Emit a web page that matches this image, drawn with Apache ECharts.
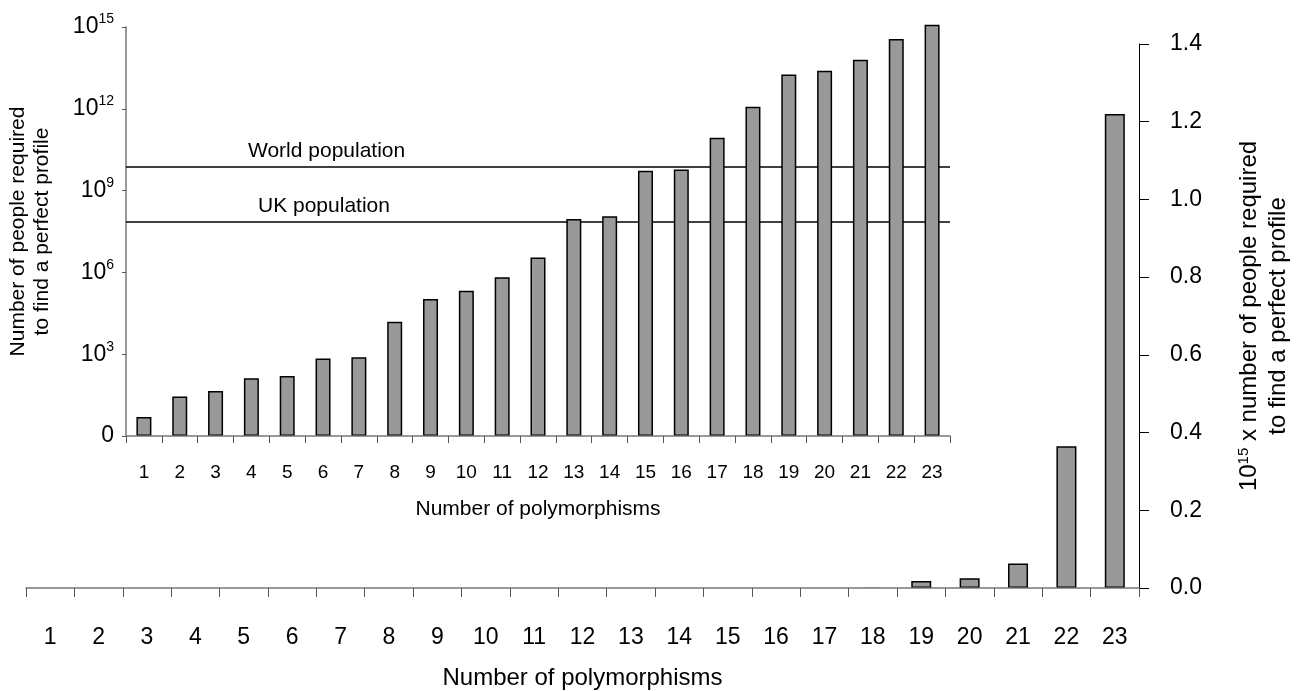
<!DOCTYPE html>
<html>
<head>
<meta charset="utf-8">
<title>Polymorphisms</title>
<script src="https://cdn.jsdelivr.net/npm/echarts@6/dist/echarts.min.js"></script>
<style>
    html, body { margin: 0; padding: 0; background: #fff; }
    #chart { width: 1304px; height: 691px; }
</style>
</head>
<body>
<div id="chart"></div>
<script>
// number of polymorphisms
const categories = ['1', '2', '3', '4', '5', '6', '7', '8', '9', '10', '11', '12',
    '13', '14', '15', '16', '17', '18', '19', '20', '21', '22', '23'];
// number of people required to find a perfect profile
const peopleRequired = [5, 28, 45, 130, 160, 700, 780, 15500, 105000, 214000, 660000, 3.5e6,
    9.1e7, 1.15e8, 5.4e9, 6.0e9, 8.7e10, 1.2e12, 1.8e13, 2.5e13, 6.3e13, 3.65e14, 1.22e15];
const worldPopulation = 7.5e9;
const ukPopulation = 7e7;
const logTicks = [0, 3, 6, 9, 12, 15];      // exponents shown on the inset axis
const linearTicks = [0, 0.2, 0.4, 0.6, 0.8, 1.0, 1.2, 1.4];

const myChart = echarts.init(document.getElementById('chart'));

const font = 'Liberation Sans, Arial, Helvetica, sans-serif';
const barStyle = {
    color: '#999999',
    borderColor: '#000',
    borderWidth: 1.5
};

// linear chart: bars too small to see get no outline (they would only darken the axis)
const linearData = peopleRequired.map(function (v) {
    const y = v / 1e15;
    return { value: y, itemStyle: { borderWidth: y < 0.005 ? 0 : 1.5 } };
});

const option = {
    animation: false,
    backgroundColor: '#fff',
    textStyle: { fontFamily: font, color: '#000' },
    grid: [
        // big linear chart
        { left: 26, right: 165, top: 44, bottom: 103, outerBoundsMode: 'none', containLabel: false },
        // log inset
        { left: 126, right: 354, top: 27, bottom: 255, outerBoundsMode: 'none', containLabel: false }
    ],
    xAxis: [
        {
            type: 'category',
            gridIndex: 0,
            data: categories,
            z: 3,
            name: 'Number of polymorphisms',
            nameLocation: 'middle',
            nameGap: 78,
            nameTextStyle: { fontSize: 24, color: '#000' },
            axisLine: { lineStyle: { color: '#777', width: 1.5 } },
            axisTick: { show: true, length: 9, lineStyle: { color: '#555' } },
            axisLabel: { margin: 38, fontSize: 23, color: '#000' }
        },
        {
            type: 'category',
            gridIndex: 1,
            data: categories,
            z: 6,
            name: 'Number of polymorphisms',
            nameLocation: 'middle',
            nameGap: 63,
            nameTextStyle: { fontSize: 21, color: '#000' },
            axisLine: { lineStyle: { color: '#777', width: 1.5 } },
            axisTick: { show: true, length: 7, lineStyle: { color: '#555' } },
            axisLabel: { margin: 27, fontSize: 19, color: '#000' }
        }
    ],
    yAxis: [
        {
            type: 'value',
            gridIndex: 0,
            position: 'right',
            min: 0,
            max: 1.4,
            interval: 0.2,
            name: '{n|10}{s|15}{n| x number of people required}\n{n|to find a perfect profile}',
            nameLocation: 'middle',
            nameRotate: 90,
            nameGap: 96,
            nameTextStyle: {
                align: 'center',
                rich: {
                    n: { fontSize: 24, lineHeight: 29, color: '#000', fontFamily: font },
                    s: { fontSize: 15, lineHeight: 29, color: '#000', fontFamily: font, padding: [0, 0, 12, 0] }
                }
            },
            splitLine: { show: false },
            axisLine: { show: true, lineStyle: { color: '#000', width: 1 } },
            axisTick: { show: true, length: 10, lineStyle: { color: '#000' } },
            axisLabel: {
                margin: 31,
                fontSize: 23,
                color: '#000',
                formatter: function (v) { return v.toFixed(1); }
            }
        },
        {
            type: 'value',
            gridIndex: 1,
            min: logTicks[0],
            max: logTicks[logTicks.length - 1],
            interval: 3,
            name: 'Number of people required\nto find a perfect profile',
            nameLocation: 'middle',
            nameGap: 72,
            nameTextStyle: { fontSize: 21, lineHeight: 24, color: '#000' },
            splitLine: { show: false },
            axisLine: { show: true, lineStyle: { color: '#777', width: 1.5 } },
            axisTick: { show: true, length: 4, lineStyle: { color: '#555' } },
            axisLabel: {
                margin: 12,
                color: '#000',
                formatter: function (v) {
                    if (v === 0) return '{b|0}';
                    return '{b|10}{s|' + v + '}';
                },
                rich: {
                    b: { fontSize: 23, fontFamily: font, color: '#000' },
                    s: { fontSize: 14, fontFamily: font, color: '#000', padding: [0, 0, 15, 0] }
                }
            }
        }
    ],
    series: [
        {
            name: 'linear',
            type: 'bar',
            xAxisIndex: 0,
            yAxisIndex: 0,
            barWidth: 20,
            z: 2,
            itemStyle: barStyle,
            data: linearData
        },
        {
            name: 'log',
            type: 'bar',
            xAxisIndex: 1,
            yAxisIndex: 1,
            barWidth: 15,
            clip: false,
            z: 5,
            itemStyle: barStyle,
            data: peopleRequired.map(function (v) { return Math.log10(v); }),
            markLine: {
                silent: true,
                symbol: 'none',
                lineStyle: { color: '#000', width: 1.5, type: 'solid' },
                label: {
                    position: 'insideStartTop',
                    fontSize: 21,
                    color: '#000',
                    fontFamily: font
                },
                data: [
                    {
                        yAxis: Math.log10(worldPopulation),
                        label: { formatter: 'World population', distance: [122, 5] }
                    },
                    {
                        yAxis: Math.log10(ukPopulation),
                        label: { formatter: 'UK population', distance: [132, 5] }
                    }
                ]
            }
        }
    ]
};

myChart.setOption(option);
</script>
</body>
</html>
